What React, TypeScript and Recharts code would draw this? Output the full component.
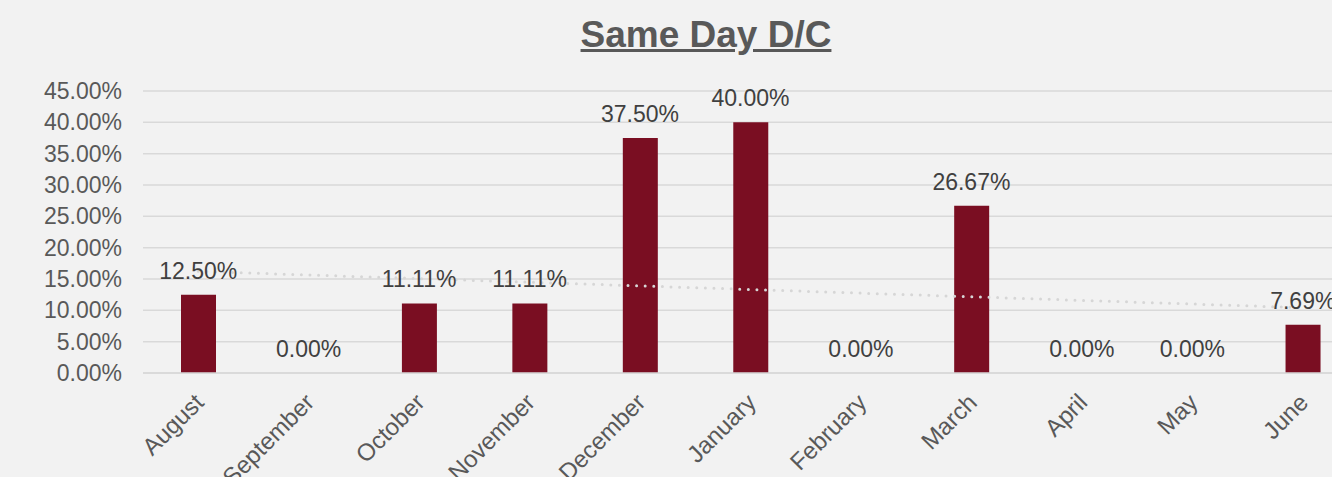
import React from 'react';
import { Bar, Line, XAxis, YAxis, CartesianGrid, LabelList, ComposedChart } from 'recharts';

const months = ['August', 'September', 'October', 'November', 'December', 'January', 'February', 'March', 'April', 'May', 'June'];
const sameDayPct = [12.5, 0, 11.11, 11.11, 37.5, 40.0, 0, 26.67, 0, 0, 7.69];
const yTicks = [0, 5, 10, 15, 20, 25, 30, 35, 40, 45];

// Linear trendline (least squares) computed from the series, as Excel does
const n = sameDayPct.length;
const xMean = (n + 1) / 2;
const yMean = sameDayPct.reduce((a, b) => a + b, 0) / n;
let sxy = 0;
let sxx = 0;
sameDayPct.forEach((v, i) => {
  const dx = i + 1 - xMean;
  sxy += dx * v;
  sxx += dx * dx;
});
const slope = sxy / sxx;
const intercept = yMean - slope * xMean;

const data = months.map((m, i) => ({
  month: m,
  value: sameDayPct[i],
  trend: intercept + slope * (i + 1),
}));

const FONT = '"Liberation Sans", Arial, sans-serif';

const XTick = (props: any) => {
  const { x, y, payload } = props;
  const ax = x + 1;
  const ay = y + 25;
  return (
    <text
      x={ax}
      y={ay}
      dy="0.35em"
      textAnchor="end"
      transform={`rotate(-45 ${ax} ${ay})`}
      fill="#595959"
      fontSize={24}
      fontFamily={FONT}
    >
      {payload.value}
    </text>
  );
};

export default function App() {
  return (
    <div style={{ position: 'fixed', left: 0, top: 0, width: 1332, height: 477, overflow: 'hidden', background: '#f2f2f2' }}>
      <div
        style={{
          position: 'absolute',
          left: 0,
          top: 16,
          width: 1412,
          textAlign: 'center',
          fontFamily: FONT,
          fontWeight: 'bold',
          fontSize: 37,
          lineHeight: '37px',
          color: '#595959',
          textDecoration: 'underline',
        }}
      >
        Same Day D/C
      </div>
      <ComposedChart
        width={1412}
        height={477}
        data={data}
        margin={{ top: 91, right: 54, bottom: 0, left: 0 }}
        barCategoryGap={0}
      >
        <CartesianGrid vertical={false} stroke="#d9d9d9" strokeWidth={1.5} />
        <XAxis
          dataKey="month"
          height={104}
          axisLine={{ stroke: '#d9d9d9', strokeWidth: 1.5 }}
          tickLine={false}
          tickSize={0}
          tickMargin={0}
          interval={0}
          tick={<XTick />}
        />
        <YAxis
          width={143}
          domain={[0, 45]}
          ticks={yTicks}
          interval={0}
          axisLine={false}
          tickLine={false}
          tickSize={0}
          tickMargin={21}
          tickFormatter={(v: number) => v.toFixed(2) + '%'}
          tick={{ fill: '#595959', fontSize: 23, fontFamily: FONT }}
        />
        <Bar dataKey="value" fill="#7a0e22" barSize={35} isAnimationActive={false} />
        <Line
          type="linear"
          dataKey="value"
          stroke="none"
          dot={false}
          activeDot={false}
          isAnimationActive={false}
        >
          <LabelList
            dataKey="value"
            position="top"
            offset={16}
            formatter={(v: any) => Number(v).toFixed(2) + '%'}
            style={{ fill: '#404040', fontSize: 23, fontFamily: FONT }}
          />
        </Line>
        <Line
          type="linear"
          dataKey="trend"
          stroke="#d6d6d6"
          strokeWidth={3}
          strokeDasharray="0 8.6"
          strokeLinecap="round"
          dot={false}
          activeDot={false}
          isAnimationActive={false}
        />
      </ComposedChart>
    </div>
  );
}
